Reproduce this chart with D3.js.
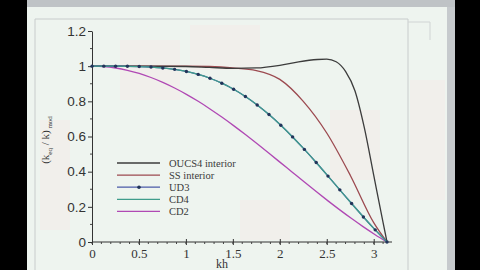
<!DOCTYPE html>
<html><head><meta charset="utf-8">
<script src="https://cdn.jsdelivr.net/npm/d3@7"></script>
<style>html,body{margin:0;padding:0;background:#000;overflow:hidden}</style>
</head><body>
<svg id="c" width="480" height="270"></svg>
<script>
// ---- data ----
const xTicks = [0, 0.5, 1, 1.5, 2, 2.5, 3];
const xTickLabels = ["0", "0.5", "1", "1.5", "2", "2.5", "3"];
const yTicks = [0, 0.2, 0.4, 0.6, 0.8, 1, 1.2];
const yTickLabels = ["0", "0.2", "0.4", "0.6", "0.8", "1", "1.2"];

// sample points along kh (0 .. pi)
const khDots = [0, 0.1257, 0.2513, 0.377, 0.5027, 0.6283, 0.754, 0.8796, 1.0053, 1.131, 1.2566, 1.3823,
  1.508, 1.6336, 1.7593, 1.885, 2.0106, 2.1363, 2.2619, 2.3876, 2.5133, 2.6389, 2.7646, 2.8903, 3.0159, 3.1416];
const ud3 = [1, 1.0, 0.9999, 0.9993, 0.9979, 0.995, 0.9899, 0.9818, 0.9698, 0.9532, 0.9312, 0.9031,
  0.8686, 0.8274, 0.7793, 0.7247, 0.6639, 0.5976, 0.5266, 0.452, 0.3749, 0.2967, 0.2188, 0.1425, 0.0692, 0];
const cd4 = ud3.slice();
const cd2 = [1, 0.9974, 0.9895, 0.9765, 0.9584, 0.9355, 0.9079, 0.8759, 0.8399, 0.8001, 0.7568, 0.7106,
  0.6618, 0.6109, 0.5584, 0.5046, 0.45, 0.3952, 0.3406, 0.2867, 0.2339, 0.1826, 0.1332, 0.086, 0.0416, 0];

const khSS = [0, 0.5, 1.0, 1.25, 1.5, 1.75, 2.0, 2.25, 2.5, 2.75, 3.0, 3.1416];
const ss   = [1, 1, 1.0, 0.998, 0.99, 0.975, 0.925, 0.80, 0.62, 0.38, 0.11, 0];

const khOU = [0, 0.5, 1.0, 1.25, 1.5, 1.75, 2.0, 2.2, 2.4, 2.5, 2.6, 2.7, 2.8, 2.9, 3.0, 3.1, 3.1416];
const oucs = [1, 1, 0.998, 0.993, 0.988, 0.99, 1.005, 1.025, 1.038, 1.04, 1.025, 0.97, 0.86, 0.65, 0.38, 0.11, 0];

const legendNames = ["OUCS4 interior", "SS interior", "UD3", "CD4", "CD2"];
const legendColors = ["#3c3c3c", "#9c4a50", "#4a5aa8", "#3f9c8c", "#b048b4"];

// ---- drawing ----
const svg = d3.select("#c");
svg.append("rect").attr("x", 0).attr("y", 0).attr("width", 480).attr("height", 270).attr("fill", "#000");
svg.append("rect").attr("x", 27).attr("y", 0).attr("width", 428).attr("height", 270).attr("fill", "#eef4ef");
const blotches = [[120, 40, 60, 60], [190, 25, 70, 45], [330, 110, 50, 70], [40, 120, 30, 110], [240, 200, 50, 40], [410, 80, 35, 120]];
svg.selectAll("rect.bl").data(blotches).join("rect").attr("class", "bl")
  .attr("x", d => d[0]).attr("y", d => d[1]).attr("width", d => d[2]).attr("height", d => d[3])
  .attr("fill", "#f6e4e6").attr("opacity", 0.35);
svg.append("rect").attr("x", 27).attr("y", 0).attr("width", 428).attr("height", 7).attr("fill", "#bfc3c6");
svg.append("rect").attr("x", 447).attr("y", 7).attr("width", 8).attr("height", 263).attr("fill", "#c6cacd");
svg.append("path").attr("d", "M35,270 V19 H408 V270").attr("fill", "none").attr("stroke", "#c8cccc").attr("stroke-width", 1);
svg.append("path").attr("d", "M408,22 H430 V40").attr("fill", "none").attr("stroke", "#d0d4d4").attr("stroke-width", 1);

const x = d3.scaleLinear().domain([0, 3.1416]).range([92, 387]);
const y = d3.scaleLinear().domain([0, 1.2]).range([242, 31]);

const xAxis = d3.axisBottom(x).tickValues(xTicks).tickFormat((d, i) => xTickLabels[i]).tickSize(4).tickSizeOuter(0);
const gx = svg.append("g").attr("transform", "translate(0,242)").call(xAxis);
gx.select(".domain").attr("d", "M92,0H392").attr("stroke", "#333");
gx.selectAll(".tick line").attr("y1", -3).attr("y2", 3).attr("stroke", "#333");
gx.selectAll(".tick text").attr("y", 7).attr("font-family", "Liberation Serif, serif").attr("font-size", 13).attr("fill", "#333");
const minor = d3.range(0, 3.15, 0.1);
svg.append("g").selectAll("line").data(minor).join("line")
  .attr("x1", d => x(d)).attr("x2", d => x(d)).attr("y1", 242).attr("y2", 244).attr("stroke", "#444");

const yAxis = d3.axisLeft(y).tickValues(yTicks).tickFormat((d, i) => yTickLabels[i]).tickSize(4).tickSizeOuter(0);
const gy = svg.append("g").attr("transform", "translate(92,0)").call(yAxis);
gy.select(".domain").attr("stroke", "#333");
gy.selectAll(".tick line").attr("stroke", "#333");
gy.selectAll(".tick text").attr("x", -6).attr("font-family", "Liberation Sans, Arial, sans-serif").attr("font-size", 13.5).attr("fill", "#333");
svg.append("g").selectAll("line").data(d3.range(0.1, 1.2, 0.2)).join("line")
  .attr("x1", 90).attr("x2", 92).attr("y1", d => y(d)).attr("y2", d => y(d)).attr("stroke", "#444");

svg.append("text").attr("x", 222).attr("y", 268).attr("text-anchor", "middle")
  .attr("font-family", "Liberation Serif, serif").attr("font-size", 12).attr("fill", "#333").text("kh");
const yl = svg.append("text").attr("transform", "translate(49,140) rotate(-90)").attr("text-anchor", "middle")
  .attr("font-family", "Liberation Serif, serif").attr("font-size", 11).attr("fill", "#333");
yl.append("tspan").text("(k");
yl.append("tspan").attr("font-size", 7).attr("dy", 3).text("eq");
yl.append("tspan").attr("dy", -3).text(" / k)");
yl.append("tspan").attr("font-size", 7).attr("dy", 3).text(" mod");

const line = d3.line().x(d => x(d[0])).y(d => y(d[1])).curve(d3.curveMonotoneX);
const series = [
  {xs: khDots, ys: cd2, c: legendColors[4]},
  {xs: khSS, ys: ss, c: legendColors[1]},
  {xs: khOU, ys: oucs, c: legendColors[0]},
  {xs: khDots, ys: ud3, c: legendColors[2]},
  {xs: khDots, ys: cd4, c: legendColors[3]},
];
svg.append("g").selectAll("path").data(series).join("path")
  .attr("d", s => line(s.xs.map((v, i) => [v, s.ys[i]])))
  .attr("fill", "none").attr("stroke", s => s.c).attr("stroke-width", 1.3);
svg.append("g").selectAll("circle").data(khDots.map((v, i) => [v, ud3[i]])).join("circle")
  .attr("cx", d => x(d[0])).attr("cy", d => y(d[1])).attr("r", 1.7).attr("fill", "#22345a");

const lg = svg.append("g");
legendNames.forEach((n, i) => {
  const yy = 163 + i * 12.1;
  lg.append("line").attr("x1", 117).attr("x2", 160).attr("y1", yy).attr("y2", yy)
    .attr("stroke", legendColors[i]).attr("stroke-width", 1.3);
  if (i === 2) lg.append("circle").attr("cx", 139).attr("cy", yy).attr("r", 1.8).attr("fill", "#22345a");
  lg.append("text").attr("x", 169).attr("y", yy + 3.5).attr("font-family", "Liberation Serif, serif")
    .attr("font-size", 10.5).attr("fill", "#3a3a3a").text(n);
});
</script>
</body></html>
